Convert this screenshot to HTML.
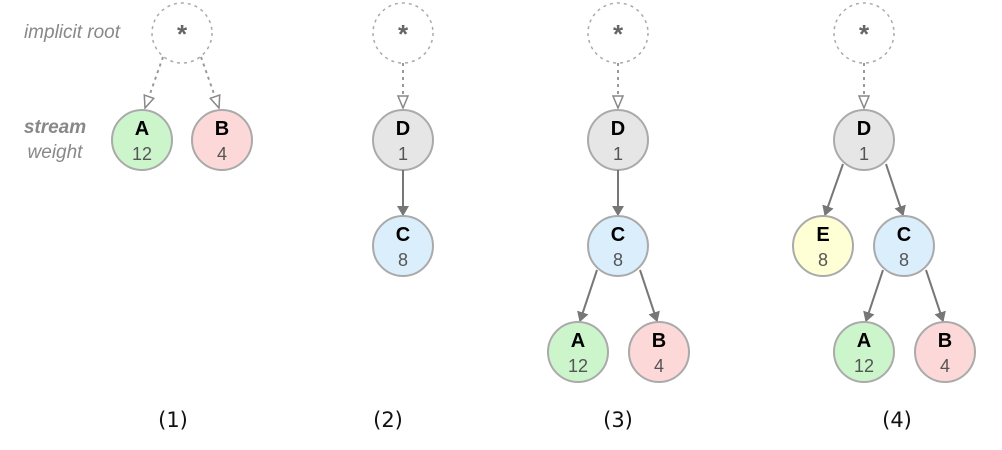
<!DOCTYPE html>
<html><head><meta charset="utf-8"><style>
html,body{margin:0;padding:0;background:#fff;}
svg{display:block}
.n{stroke:#aaa;stroke-width:2}
.L{font-family:"Liberation Sans",sans-serif;font-weight:bold;font-size:20px;fill:#000;text-anchor:middle}
.W{font-family:"Liberation Sans",sans-serif;font-size:18px;fill:#555;text-anchor:middle}
.e{stroke:#777;stroke-width:2;fill:none}
.d{stroke:#999;stroke-width:2;fill:none;stroke-dasharray:3,4}
.r{stroke:#aaa;stroke-width:1.5;fill:none;stroke-dasharray:3,4}
.s{font-family:"Liberation Sans",sans-serif;font-weight:bold;font-size:26px;fill:#666;text-anchor:middle}
.cap{font-family:"DejaVu Sans",sans-serif;font-size:21px;fill:#111;text-anchor:middle}
</style></head><body>
<svg width="1002" height="450" viewBox="0 0 1002 450">
<defs>
<marker id="f" markerWidth="10" markerHeight="12" refX="9" refY="6" orient="auto" markerUnits="userSpaceOnUse"><path d="M0,0 L12,6 L0,12 Z" fill="#777" transform="scale(0.85,1)"/></marker>
<marker id="h" markerWidth="14" markerHeight="14" refX="13" refY="6" orient="auto" markerUnits="userSpaceOnUse"><path d="M1,1 L13,6 L1,11 Z" fill="#fff" stroke="#888" stroke-width="1.5"/></marker>
</defs>

<!-- labels -->
<text x="72" y="38" font-family="Liberation Sans,sans-serif" font-style="italic" font-size="19" fill="#888" text-anchor="middle">implicit root</text>
<text x="55" y="133" font-family="Liberation Sans,sans-serif" font-style="italic" font-weight="bold" font-size="19" fill="#888" text-anchor="middle">stream</text>
<text x="55" y="158" font-family="Liberation Sans,sans-serif" font-style="italic" font-size="19" fill="#888" text-anchor="middle">weight</text>

<!-- Panel 1 -->
<circle cx="182" cy="33" r="30" class="r"/><text x="182" y="43" class="s">*</text>
<line x1="163" y1="57" x2="145" y2="108" class="d" marker-end="url(#h)"/>
<line x1="201" y1="57" x2="219" y2="108" class="d" marker-end="url(#h)"/>
<circle cx="142" cy="140" r="30" class="n" fill="#ccf5cc"/><text x="142" y="135" class="L">A</text><text x="142" y="160" class="W">12</text>
<circle cx="222" cy="140" r="30" class="n" fill="#fdd8d8"/><text x="222" y="135" class="L">B</text><text x="222" y="160" class="W">4</text>

<!-- Panel 2 -->
<circle cx="403" cy="33" r="30" class="r"/><text x="403" y="43" class="s">*</text>
<line x1="403" y1="63" x2="403" y2="108" class="d" marker-end="url(#h)"/>
<circle cx="403" cy="140" r="30" class="n" fill="#e6e6e6"/><text x="403" y="135" class="L">D</text><text x="403" y="160" class="W">1</text>
<line x1="403" y1="170" x2="403" y2="215" class="e" marker-end="url(#f)"/>
<circle cx="403" cy="246" r="30" class="n" fill="#dbeefc"/><text x="403" y="241" class="L">C</text><text x="403" y="266" class="W">8</text>

<!-- Panel 3 -->
<circle cx="618" cy="33" r="30" class="r"/><text x="618" y="43" class="s">*</text>
<line x1="618" y1="63" x2="618" y2="108" class="d" marker-end="url(#h)"/>
<circle cx="618" cy="140" r="30" class="n" fill="#e6e6e6"/><text x="618" y="135" class="L">D</text><text x="618" y="160" class="W">1</text>
<line x1="618" y1="170" x2="618" y2="215" class="e" marker-end="url(#f)"/>
<circle cx="618" cy="246" r="30" class="n" fill="#dbeefc"/><text x="618" y="241" class="L">C</text><text x="618" y="266" class="W">8</text>
<line x1="597" y1="270" x2="580" y2="321" class="e" marker-end="url(#f)"/>
<line x1="640" y1="270" x2="657" y2="321" class="e" marker-end="url(#f)"/>
<circle cx="578" cy="352" r="30" class="n" fill="#ccf5cc"/><text x="578" y="347" class="L">A</text><text x="578" y="372" class="W">12</text>
<circle cx="659" cy="352" r="30" class="n" fill="#fdd8d8"/><text x="659" y="347" class="L">B</text><text x="659" y="372" class="W">4</text>

<!-- Panel 4 -->
<circle cx="864" cy="33" r="30" class="r"/><text x="864" y="43" class="s">*</text>
<line x1="864" y1="63" x2="864" y2="108" class="d" marker-end="url(#h)"/>
<circle cx="864" cy="140" r="30" class="n" fill="#e6e6e6"/><text x="864" y="135" class="L">D</text><text x="864" y="160" class="W">1</text>
<line x1="843" y1="164" x2="825" y2="215" class="e" marker-end="url(#f)"/>
<line x1="886" y1="164" x2="903" y2="215" class="e" marker-end="url(#f)"/>
<circle cx="823" cy="246" r="30" class="n" fill="#ffffd6"/><text x="823" y="241" class="L">E</text><text x="823" y="266" class="W">8</text>
<circle cx="904" cy="246" r="30" class="n" fill="#dbeefc"/><text x="904" y="241" class="L">C</text><text x="904" y="266" class="W">8</text>
<line x1="883" y1="270" x2="866" y2="321" class="e" marker-end="url(#f)"/>
<line x1="926" y1="270" x2="943" y2="321" class="e" marker-end="url(#f)"/>
<circle cx="864" cy="352" r="30" class="n" fill="#ccf5cc"/><text x="864" y="347" class="L">A</text><text x="864" y="372" class="W">12</text>
<circle cx="945" cy="352" r="30" class="n" fill="#fdd8d8"/><text x="945" y="347" class="L">B</text><text x="945" y="372" class="W">4</text>

<!-- captions -->
<text x="173" y="427" class="cap">(1)</text>
<text x="388" y="427" class="cap">(2)</text>
<text x="618" y="427" class="cap">(3)</text>
<text x="897" y="427" class="cap">(4)</text>
</svg>
</body></html>
